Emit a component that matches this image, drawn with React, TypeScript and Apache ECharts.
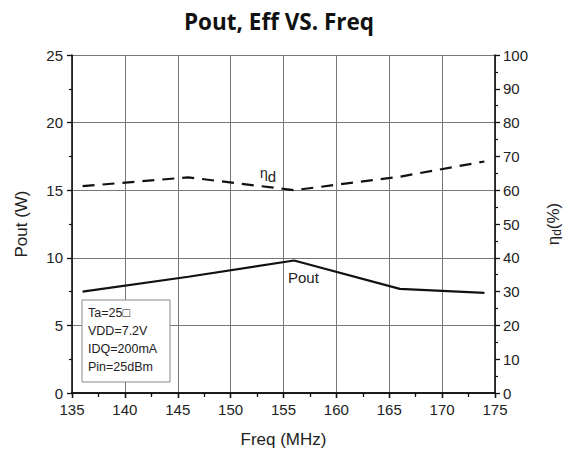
import React, { useEffect, useRef } from "react";
import * as echarts from "echarts";

const freqPout: number[] = [136, 146, 156, 166, 174];
const poutValues: number[] = [7.5, 8.6, 9.8, 7.7, 7.4];
const freqEff: number[] = [136, 146, 156, 166, 174];
const effValues: number[] = [61.2, 63.8, 60.0, 64.0, 68.5];
const conditionLines: string[] = ["Ta=25□", "VDD=7.2V", "IDQ=200mA", "Pin=25dBm"];

export default function App() {
  const ref = useRef<HTMLDivElement>(null);
  useEffect(() => {
    document.body.style.margin = "0";
    const chart = echarts.init(ref.current!, null, { renderer: "svg" });
    const font = "'Liberation Sans', Arial, sans-serif";
    const axisLine = { show: true, lineStyle: { color: "#111", width: 1.6 } };
    chart.setOption({
      animation: false,
      backgroundColor: "#fff",
      title: {
        text: "Pout, Eff VS. Freq",
        left: 274,
        textAlign: "center",
        top: 5,
        textStyle: { fontFamily: "'Open Sans', Lato, sans-serif", fontWeight: "bold", fontSize: 22.5, color: "#111" },
      },
      grid: { left: 72, right: 82, top: 55, bottom: 68 },
      xAxis: [
        {
          type: "value",
          min: 135,
          max: 175,
          interval: 5,
          position: "bottom",
          axisLine,
          axisTick: { show: true, length: 5, lineStyle: { color: "#111", width: 1.3 } },
          minorTick: { show: true, splitNumber: 2, length: 3, lineStyle: { color: "#111", width: 1.2 } },
          splitLine: { show: true, lineStyle: { color: "#777", width: 1 } },
          axisLabel: { fontFamily: font, fontSize: 15, color: "#222", margin: 9 },
          name: "Freq (MHz)",
          nameLocation: "middle",
          nameGap: 38,
          nameTextStyle: { fontFamily: font, fontSize: 17, color: "#222" },
        },
        {
          type: "value",
          min: 135,
          max: 175,
          interval: 5,
          position: "top",
          axisLine,
          axisTick: { show: true, inside: true, length: 5, lineStyle: { color: "#111", width: 1.3 } },
          minorTick: { show: true, splitNumber: 2, length: 4, lineStyle: { color: "#111", width: 1.2 } },
          splitLine: { show: false },
          axisLabel: { show: false },
        },
      ],
      yAxis: [
        {
          type: "value",
          min: 0,
          max: 25,
          interval: 5,
          position: "left",
          axisLine,
          axisTick: { show: true, length: 5, lineStyle: { color: "#111", width: 1.3 } },
          minorTick: { show: true, splitNumber: 2, length: 3, lineStyle: { color: "#111", width: 1.2 } },
          splitLine: { show: true, lineStyle: { color: "#777", width: 1 } },
          axisLabel: { fontFamily: font, fontSize: 15, color: "#222", margin: 9 },
          name: "Pout (W)",
          nameLocation: "middle",
          nameRotate: 90,
          nameGap: 42,
          nameTextStyle: { fontFamily: font, fontSize: 17, color: "#222" },
        },
        {
          type: "value",
          min: 0,
          max: 100,
          interval: 10,
          position: "right",
          axisLine,
          axisTick: { show: true, length: 5, lineStyle: { color: "#111", width: 1.3 } },
          minorTick: { show: true, splitNumber: 2, length: 3, lineStyle: { color: "#111", width: 1.2 } },
          splitLine: { show: false },
          axisLabel: { fontFamily: font, fontSize: 15, color: "#222", margin: 8 },
          name: "{a|η}{b|d}{a|(%)}",
          nameLocation: "middle",
          nameRotate: 90,
          nameGap: 48,
          nameTextStyle: {
            rich: {
              a: { fontFamily: font, fontSize: 17, color: "#222" },
              b: { fontFamily: font, fontSize: 12, color: "#222", padding: [8, 0, 0, 0] },
            },
          },
        },
      ],
      series: [
        {
          name: "Pout",
          type: "line",
          xAxisIndex: 0,
          yAxisIndex: 0,
          data: freqPout.map((f, i) => [f, poutValues[i]]),
          showSymbol: false,
          lineStyle: { color: "#111", width: 2.2, type: "solid" },
        },
        {
          name: "Eff",
          type: "line",
          xAxisIndex: 0,
          yAxisIndex: 1,
          data: freqEff.map((f, i) => [f, effValues[i]]),
          showSymbol: false,
          lineStyle: { color: "#111", width: 2.2, type: [12, 8] },
        },
      ],
      graphic: [
        {
          type: "rect",
          shape: { x: 82, y: 300, width: 88, height: 82 },
          style: { fill: "#fff", stroke: "#888", lineWidth: 1 },
          z: 10,
        },
        ...conditionLines.map((t, i) => ({
          type: "text",
          x: 88,
          y: 313 + i * 18,
          z: 11,
          style: { text: t, fontFamily: font, fontSize: 12.5, fill: "#222", textVerticalAlign: "middle" },
        })),
        {
          type: "text",
          x: 260,
          y: 161,
          z: 11,
          style: {
            text: "{a|η}{b|d}",
            rich: {
              a: { fontFamily: font, fontSize: 14, fill: "#222" },
              b: { fontFamily: font, fontSize: 15, fill: "#222", padding: [8, 0, 0, 0] },
            },
          },
        },
        {
          type: "text",
          x: 288,
          y: 270,
          z: 11,
          style: { text: "Pout", fontFamily: font, fontSize: 15, fill: "#222" },
        },
      ],
    });
    return () => chart.dispose();
  }, []);
  return <div ref={ref} style={{ width: 577, height: 461 }} />;
}
